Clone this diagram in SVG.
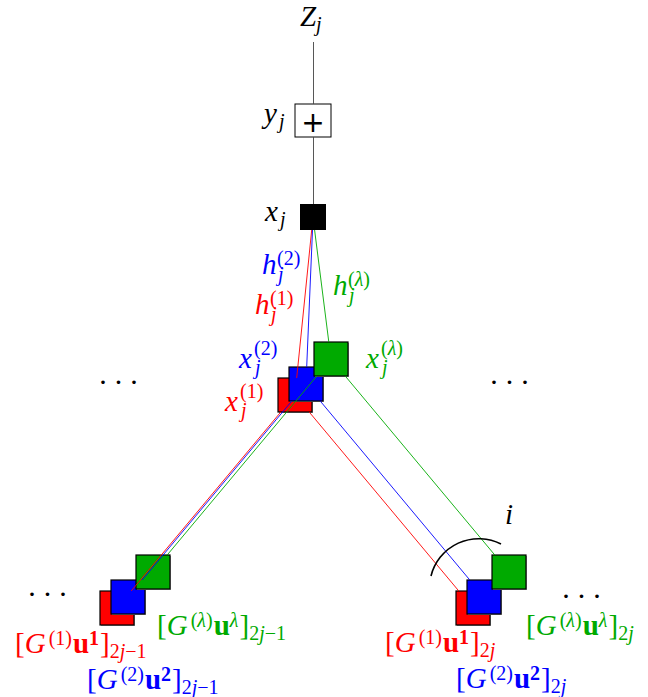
<svg xmlns="http://www.w3.org/2000/svg" width="648" height="697" viewBox="0 0 648 697">
<style>
.m{font-family:"Liberation Serif","Times New Roman",serif;font-size:29px}
.it{font-style:italic}
.s{font-size:20px}
.b{font-weight:bold}
.red{fill:#f00}.blue{fill:#00f}.green{fill:#0a0}
.sq{stroke:#000;stroke-width:1.2}
.sh{fill:#999}
.ln{fill:none;stroke-width:0.9}
.dots{font-family:"Liberation Serif",serif;font-size:30px;letter-spacing:5.5px;fill:#000}
</style>
<rect width="648" height="697" fill="#fff"/>

<g id="node-Z">
<text class="m it" x="300" y="26">Z<tspan class="s" x="316" y="31">j</tspan></text>
</g>
<g id="node-y">
<rect x="295" y="104" width="36" height="33" fill="#fff" stroke="#000" stroke-width="1"/>
<text x="313" y="132" text-anchor="middle" font-family="DejaVu Sans,sans-serif" font-size="28">+</text>
<text class="m it" x="264" y="123">y<tspan class="s" x="279" y="128">j</tspan></text>
</g>
<g id="node-x">
<rect x="300" y="204" width="26" height="26" fill="#000"/>
<text class="m it" x="265" y="221">x<tspan class="s" x="280" y="226">j</tspan></text>
</g>

<g id="node-mid-red">
<rect class="sh" x="279" y="379" width="34" height="34"/>
<rect class="sq red" x="278" y="378" width="34" height="34"/>
<text class="m red"><tspan class="it" x="225" y="411">x</tspan><tspan class="s" x="240" y="398">(1)</tspan><tspan class="s it" x="241" y="417">j</tspan></text>
</g>
<g id="node-mid-blue">
<rect class="sh" x="290" y="368" width="34" height="34"/>
<rect class="sq blue" x="289" y="367" width="34" height="34"/>
<text class="m blue"><tspan class="it" x="239" y="368">x</tspan><tspan class="s" x="254" y="355">(2)</tspan><tspan class="s it" x="255" y="374">j</tspan></text>
</g>
<g id="node-mid-green">
<rect class="sh" x="315" y="343" width="34" height="34"/>
<rect class="sq green" x="314" y="342" width="34" height="34"/>
<text class="m green"><tspan class="it" x="366" y="368">x</tspan><tspan class="s" x="381" y="355">(<tspan class="it">λ</tspan>)</tspan><tspan class="s it" x="382" y="374">j</tspan></text>
</g>

<g id="node-bl-red">
<rect class="sh" x="101" y="592" width="34" height="34"/>
<rect class="sq red" x="100" y="591" width="34" height="34"/>
<text class="m red" x="15" y="653">[<tspan class="it">G</tspan><tspan class="s" dx="3" dy="-8">(1)</tspan><tspan class="b" dx="1" dy="8">u</tspan><tspan class="s b" dy="-8">1</tspan><tspan dx="1" dy="8">]</tspan><tspan class="s" dy="5">2<tspan class="it">j</tspan>−1</tspan></text>
</g>
<g id="node-bl-blue">
<rect class="sh" x="112" y="581" width="34" height="34"/>
<rect class="sq blue" x="111" y="580" width="34" height="34"/>
<text class="m blue" x="87" y="689">[<tspan class="it">G</tspan><tspan class="s" dx="3" dy="-8">(2)</tspan><tspan class="b" dx="1" dy="8">u</tspan><tspan class="s b" dy="-8">2</tspan><tspan dx="1" dy="8">]</tspan><tspan class="s" dy="5">2<tspan class="it">j</tspan>−1</tspan></text>
</g>
<g id="node-bl-green">
<rect class="sh" x="137" y="556" width="34" height="34"/>
<rect class="sq green" x="136" y="555" width="34" height="34"/>
<text class="m green" x="157" y="635">[<tspan class="it">G</tspan><tspan class="s" dx="3" dy="-8">(<tspan class="it">λ</tspan>)</tspan><tspan class="b" dx="1" dy="8">u</tspan><tspan class="s it" dy="-8">λ</tspan><tspan dx="1" dy="8">]</tspan><tspan class="s" dy="5">2<tspan class="it">j</tspan>−1</tspan></text>
</g>

<g id="node-br-red">
<rect class="sh" x="457" y="592" width="34" height="34"/>
<rect class="sq red" x="456" y="591" width="34" height="34"/>
<text class="m red" x="385" y="652">[<tspan class="it">G</tspan><tspan class="s" dx="3" dy="-8">(1)</tspan><tspan class="b" dx="1" dy="8">u</tspan><tspan class="s b" dy="-8">1</tspan><tspan dx="1" dy="8">]</tspan><tspan class="s" dy="5">2<tspan class="it">j</tspan></tspan></text>
</g>
<g id="node-br-blue">
<rect class="sh" x="468" y="581" width="34" height="34"/>
<rect class="sq blue" x="467" y="580" width="34" height="34"/>
<text class="m blue" x="456" y="688">[<tspan class="it">G</tspan><tspan class="s" dx="3" dy="-8">(2)</tspan><tspan class="b" dx="1" dy="8">u</tspan><tspan class="s b" dy="-8">2</tspan><tspan dx="1" dy="8">]</tspan><tspan class="s" dy="5">2<tspan class="it">j</tspan></tspan></text>
</g>
<g id="node-br-green">
<rect class="sh" x="493" y="556" width="34" height="34"/>
<rect class="sq green" x="492" y="555" width="34" height="34"/>
<text class="m green" x="526" y="635">[<tspan class="it">G</tspan><tspan class="s" dx="3" dy="-8">(<tspan class="it">λ</tspan>)</tspan><tspan class="b" dx="1" dy="8">u</tspan><tspan class="s it" dy="-8">λ</tspan><tspan dx="1" dy="8">]</tspan><tspan class="s" dy="5">2<tspan class="it">j</tspan></tspan></text>
</g>

<g id="connectors">
<path class="ln" stroke="#444" d="M313.5,42 V104 M313.5,137 V204"/>
<path class="ln" stroke="#f00" d="M311.7,230 L296.7,378 M280.8,412 L131.2,591 M309.2,412 L458.8,591"/>
<path class="ln" stroke="#00f" d="M312.5,230 L306.7,367 M291.8,401 L142.2,580 M320.2,401 L469.8,580"/>
<path class="ln" stroke="#0a0" d="M314.6,230 L328.8,342 M316.8,376 L167.2,555 M345.2,376 L494.8,555"/>
<text class="m blue"><tspan class="it" x="262" y="274">h</tspan><tspan class="s" x="277" y="265">(2)</tspan><tspan class="s it" x="278" y="281">j</tspan></text>
<text class="m red"><tspan class="it" x="255" y="314">h</tspan><tspan class="s" x="270" y="305">(1)</tspan><tspan class="s it" x="271" y="321">j</tspan></text>
<text class="m green"><tspan class="it" x="333" y="295">h</tspan><tspan class="s" x="348" y="286">(<tspan class="it">λ</tspan>)</tspan><tspan class="s it" x="349" y="302">j</tspan></text>
</g>

<g id="cut">
<path d="M431,576 A49.2,49.2 0 0 1 501,544" fill="none" stroke="#000" stroke-width="1.6"/>
<text class="m it" x="505" y="524">i</text>
</g>

<g id="ellipses">
<text class="dots" x="98" y="392">···</text>
<text class="dots" x="489" y="392">···</text>
<text class="dots" x="27" y="604">···</text>
<text class="dots" x="561" y="606">···</text>
</g>
</svg>
